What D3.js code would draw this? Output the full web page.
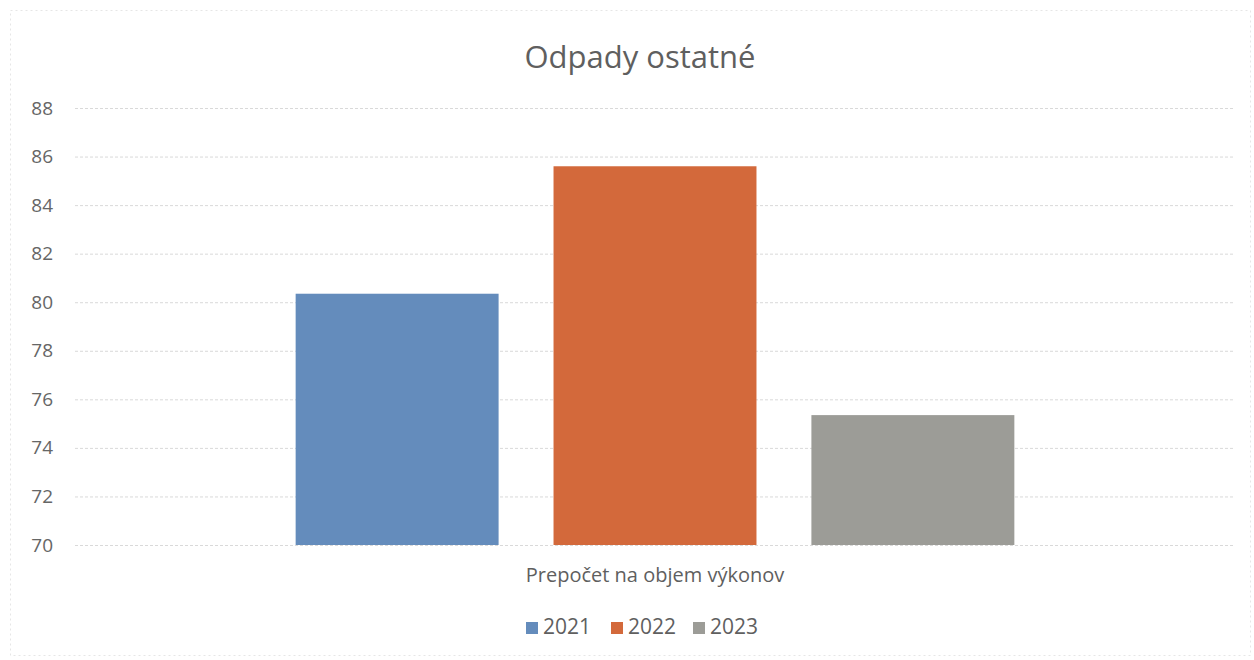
<!DOCTYPE html>
<html><head><meta charset="utf-8">
<script src="https://cdn.jsdelivr.net/npm/d3@7/dist/d3.min.js"></script>
<style>body{margin:0;background:#fff}svg{display:block}text{font-family:"Open Sans","Noto Sans",sans-serif;fill:#5f5f5f}</style>
</head><body><svg id="c" width="1254" height="660"></svg>
<script>
const categories = ["Prepočet na objem výkonov"];
const seriesNames = ["2021", "2022", "2023"];
const values = [80.35, 85.6, 75.35];
const colors = ["#648cbc", "#d3693b", "#9c9c97"];
const yTicks = [70, 72, 74, 76, 78, 80, 82, 84, 86, 88];
const title = "Odpady ostatné";

(function(){
const svg = d3.select("#c");
svg.append("rect").attr("x",10.5).attr("y",10.5).attr("width",1240).attr("height",645)
  .attr("fill","none").attr("stroke","#e6e6e6").attr("stroke-dasharray","2,3");

const mL = 75, mR = 1235, mT = 108, mB = 545;
const y = d3.scaleLinear().domain([70, 88]).range([mB, mT]);
const x0 = d3.scaleBand().domain(categories).range([mL, mR]).paddingInner(0).paddingOuter(0.307);
const x1 = d3.scaleBand().domain(seriesNames).range([0, x0.bandwidth()]).paddingInner(0.213).paddingOuter(0);

svg.append("text").attr("x", 640).attr("y", 68).attr("text-anchor","middle")
  .style("font-size","31px").text(title);

const yAxis = svg.append("g").attr("transform",`translate(${mL},0)`)
  .call(d3.axisLeft(y).tickValues(yTicks).tickSize(-(mR-mL)).tickPadding(22));
yAxis.select(".domain").remove();
yAxis.selectAll(".tick line").attr("stroke","#d9d9d9").attr("stroke-dasharray","3,2");
yAxis.selectAll(".tick text").style("font-size","19px").style("fill","#666");

const g = svg.append("g");
categories.forEach(cat => {
  g.selectAll("rect.bar").data(values).enter().append("rect").attr("class","bar")
    .attr("x",(d,i)=>x0(cat)+x1(seriesNames[i]))
    .attr("width",x1.bandwidth())
    .attr("y",d=>y(d)).attr("height",d=>y(70)-y(d))
    .attr("fill",(d,i)=>colors[i]);
});

const xAxis = svg.append("g").attr("transform",`translate(0,${mB})`)
  .call(d3.axisBottom(x0).tickSize(0).tickPadding(23));
xAxis.select(".domain").remove();
xAxis.selectAll(".tick text").style("font-size","20px").style("fill","#5f5f5f");

const legendX = [526, 611, 693];
const lg = svg.append("g");
seriesNames.forEach((s,i)=>{
  lg.append("rect").attr("x",legendX[i]).attr("y",622).attr("width",12).attr("height",12).attr("fill",colors[i]);
  lg.append("text").attr("x",legendX[i]+17).attr("y",634).style("font-size","21px").text(s);
});
})();
</script></body></html>
